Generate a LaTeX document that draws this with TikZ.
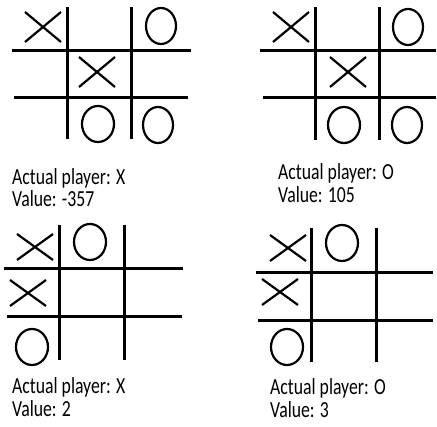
\documentclass[tikz,border=0pt]{standalone}
\usepackage{fontspec}
\setmainfont{Carlito}
\newcommand{\narrow}[1]{\scalebox{0.77}[1]{#1}}

\begin{document}
\begin{tikzpicture}[x=1pt, y=-1pt,
  gridline/.style={line width=3pt},
  markline/.style={line width=2.2pt},
  labl/.style={anchor=base west, inner sep=0pt,
               font=\fontsize{23}{24}\selectfont},
]
\useasboundingbox (0,0) rectangle (437,427);

% board top left
\draw[gridline] (67,7) -- (67,139);
\draw[gridline] (131,7) -- (131,139);
\draw[gridline] (12,51) -- (191,51);
\draw[gridline] (14,98) -- (188,98);
\draw[markline] (43,27) ++(-18,-15) -- ++(36,30) ++(0,-30) -- ++(-36,30);
\draw[markline] (97,72) ++(-18,-15) -- ++(36,30) ++(0,-30) -- ++(-36,30);
\draw[markline] (161,26) ellipse (15 and 18);
\draw[markline] (98,124) ellipse (16 and 18);
\draw[markline] (158,125) ellipse (15 and 18);
\node[labl] (playerA) at (12,185) {\narrow{Actual player: X}};
\node[labl] (valueA)  at (12,207) {\narrow{Value: -357}};

% board top right
\draw[gridline] (315,7) -- (315,140);
\draw[gridline] (379,7) -- (379,140);
\draw[gridline] (260,51) -- (436,51);
\draw[gridline] (263,98) -- (436,98);
\draw[markline] (291,27) ++(-18,-15) -- ++(36,30) ++(0,-30) -- ++(-36,30);
\draw[markline] (348,72) ++(-18,-15) -- ++(36,30) ++(0,-30) -- ++(-36,30);
\draw[markline] (408,27) ellipse (15 and 18);
\draw[markline] (344,125) ellipse (16 and 18);
\draw[markline] (407,125) ellipse (15 and 18);
\node[labl] (playerB) at (278,180) {\narrow{Actual player: O}};
\node[labl] (valueB)  at (278,203) {\narrow{Value: 105}};

% board bottom left
\draw[gridline] (59,225) -- (59,360);
\draw[gridline] (124,225) -- (124,360);
\draw[gridline] (4,269) -- (183,269);
\draw[gridline] (7,317) -- (182,317);
\draw[markline] (35,247) ++(-18,-13) -- ++(36,26) ++(0,-26) -- ++(-36,26);
\draw[markline] (28,293) ++(-18,-13) -- ++(36,26) ++(0,-26) -- ++(-36,26);
\draw[markline] (90,242) ellipse (16 and 18);
\draw[markline] (32,347) ellipse (16 and 18);
\node[labl] (playerC) at (12,394) {\narrow{Actual player: X}};
\node[labl] (valueC)  at (12,417) {\narrow{Value: 2}};

% board bottom right
\draw[gridline] (311,228) -- (311,362);
\draw[gridline] (376,228) -- (376,362);
\draw[gridline] (256,273) -- (433,273);
\draw[gridline] (258,321) -- (433,321);
\draw[markline] (288,248) ++(-18,-13) -- ++(36,26) ++(0,-26) -- ++(-36,26);
\draw[markline] (280,292) ++(-18,-13) -- ++(36,26) ++(0,-26) -- ++(-36,26);
\draw[markline] (342,243) ellipse (16 and 18);
\draw[markline] (287,347) ellipse (16 and 18);
\node[labl] (playerD) at (270,395) {\narrow{Actual player: O}};
\node[labl] (valueD)  at (270,418) {\narrow{Value: 3}};
\end{tikzpicture}
\end{document}
